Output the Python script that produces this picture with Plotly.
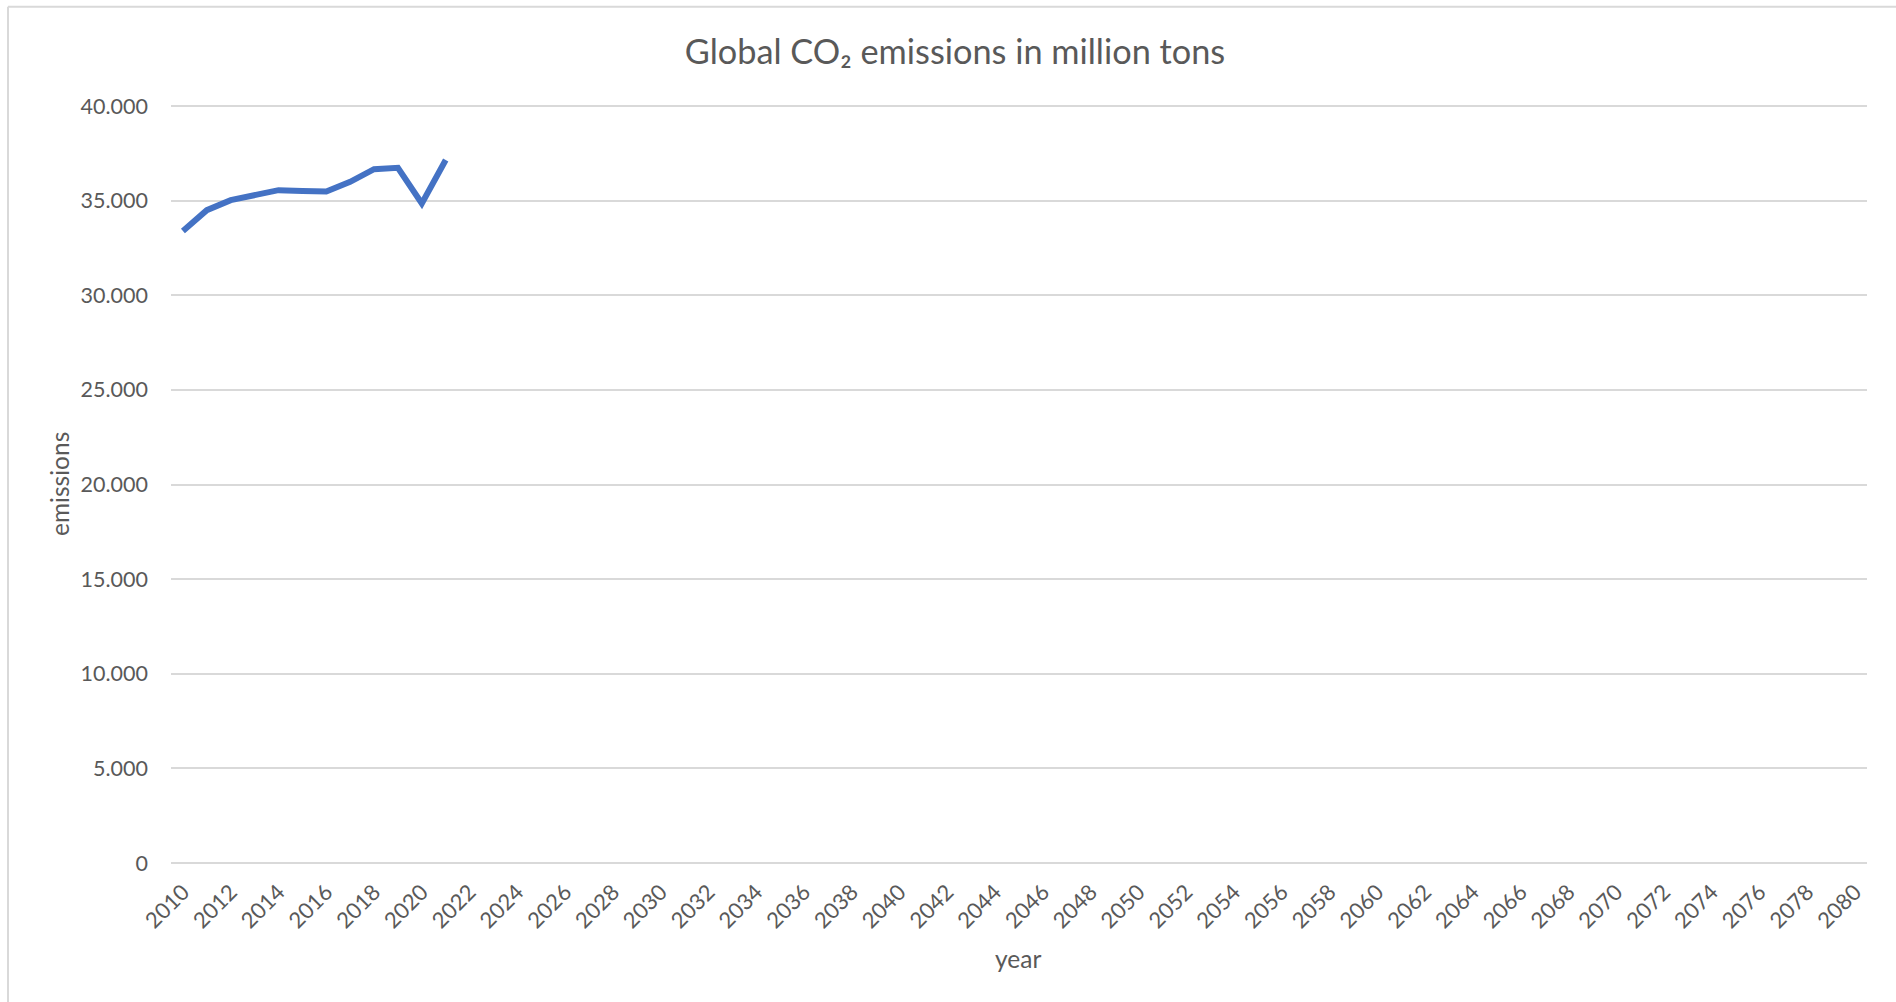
import plotly.graph_objects as go

# Data
years = [2010, 2011, 2012, 2013, 2014, 2015, 2016, 2017, 2018, 2019, 2020, 2021]
emissions = [33400, 34500, 35030, 35330, 35560, 35520, 35490, 36000, 36670, 36740, 34860, 37150]

x_tick_years = list(range(2010, 2081, 2))
x_tick_labels = [str(y) for y in x_tick_years]
y_tick_values = [0, 5000, 10000, 15000, 20000, 25000, 30000, 35000, 40000]
y_top = 40060  # small headroom so the 40.000 gridline is drawn

W, H = 1896, 1002
L, R, T, B = 171, 29, 105, 139
pw, ph = W - L - R, H - T - B

FONT = "Lato"
TXT = "#595959"
GRID = "#D9D9D9"

fig = go.Figure()
fig.add_trace(go.Scatter(
    x=years, y=emissions, mode="lines",
    line=dict(color="#4472C4", width=6),
    showlegend=False, hoverinfo="x+y",
))

def px_x(px):
    return (px - L) / pw

def px_y(py):
    return (H - B - py) / ph

fig.update_layout(
    width=W, height=H,
    margin=dict(l=L, r=R, t=T, b=B, autoexpand=False),
    paper_bgcolor="white", plot_bgcolor="white",
    separators=",.",
    font=dict(family=FONT, color=TXT),
    title=dict(
        text="Global CO₂ emissions in million tons",
        x=955 / W, xref="container", xanchor="center",
        y=1 - 52 / H, yref="container", yanchor="middle",
        font=dict(family=FONT, size=34.3, color=TXT),
    ),
    xaxis=dict(
        range=[2009.5, 2080.5],
        tickmode="array", tickvals=x_tick_years, ticktext=x_tick_labels,
        tickangle=-45, showgrid=False, zeroline=False, showline=False,
        ticks="", tickfont=dict(family=FONT, size=22, color=TXT),
        ticklabelstandoff=11, automargin=False,
    ),
    yaxis=dict(
        range=[0, y_top],
        tickmode="array", tickvals=y_tick_values, tickformat=",d",
        showgrid=True, gridcolor=GRID, gridwidth=2,
        zeroline=True, zerolinecolor=GRID, zerolinewidth=2,
        showline=False, ticks="",
        tickfont=dict(family=FONT, size=21.5, color=TXT),
        ticklabelstandoff=22, automargin=False,
    ),
    annotations=[
        dict(text="emissions", xref="paper", yref="paper",
             x=px_x(59), y=px_y(484), xanchor="center", yanchor="middle",
             textangle=-90, showarrow=False,
             font=dict(family=FONT, size=24.5, color=TXT)),
        dict(text="year", xref="paper", yref="paper",
             x=px_x(1018), y=px_y(958), xanchor="center", yanchor="middle",
             showarrow=False,
             font=dict(family=FONT, size=24.5, color=TXT)),
    ],
    shapes=[
        dict(type="line", xref="paper", yref="paper",
             x0=px_x(8), x1=px_x(8), y0=px_y(1010), y1=px_y(6.7),
             line=dict(color=GRID, width=2)),
        dict(type="line", xref="paper", yref="paper",
             x0=px_x(8), x1=px_x(1910), y0=px_y(6.7), y1=px_y(6.7),
             line=dict(color=GRID, width=2)),
    ],
)

fig.write_html("out.html")
